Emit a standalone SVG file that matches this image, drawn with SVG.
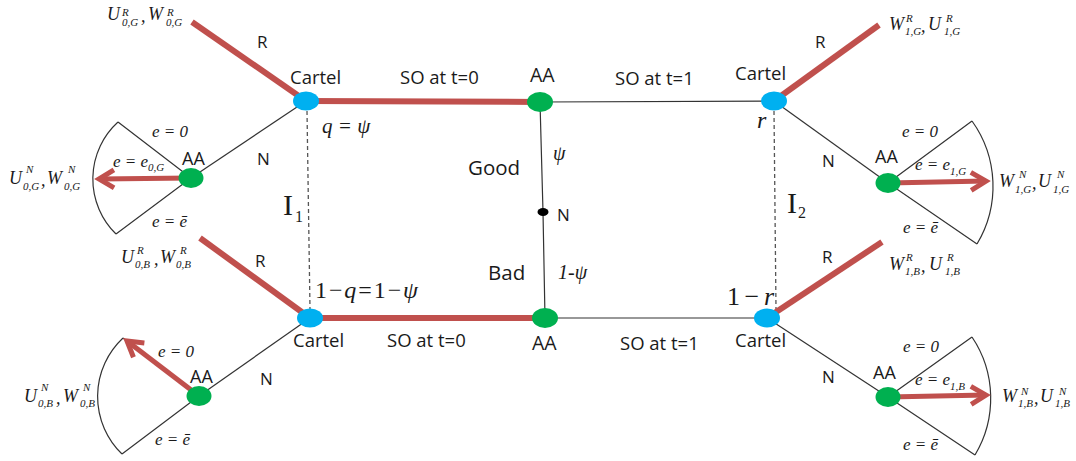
<svg xmlns="http://www.w3.org/2000/svg" width="1076" height="461" viewBox="0 0 1076 461">
<style>
.s{font-family:"Open Sans","Liberation Sans",sans-serif;fill:#1a1a1a}
.c{font-size:18.5px}
.t{font-size:17px}
.gb{font-size:20.5px}
.m{font-family:"Liberation Serif",serif;font-style:italic;fill:#1a1a1a}
.up{font-style:normal}
.it{font-style:italic}
.p{font-size:18px}
.sc{font-size:11px}
.e{font-size:17px}
.red{stroke:#C0504D;stroke-width:6;fill:none}
.arr{stroke:#C0504D;stroke-width:5;fill:none;marker-end:url(#ah)}
.thin{stroke:#333;stroke-width:1.2;fill:none}
.dash{stroke:#555;stroke-width:1.3;stroke-dasharray:4 3;fill:none}
.cartel{fill:#00B0F0}
.aa{fill:#00B050}
</style>
<defs>
<marker id="ah" markerUnits="userSpaceOnUse" markerWidth="40" markerHeight="40" viewBox="-20 -20 40 40" refX="0" refY="0" orient="auto" overflow="visible">
<path d="M -15 -9 L 0 0 L -15 9" stroke="#C0504D" stroke-width="5" fill="none" stroke-linejoin="miter"/>
</marker>
</defs>

<g id="connectors">
<path class="dash" d="M 307 111 L 310 309"/>
<path class="dash" d="M 774 111 L 776 309"/>
<path class="red" d="M 192 22 L 306 101"/>
<path class="red" d="M 306 101 L 540 102"/>
<path class="red" d="M 200 238 L 310 318"/>
<path class="red" d="M 310 318 L 545 318"/>
<path class="red" d="M 774 101 L 879 25"/>
<path class="red" d="M 767 318 L 882 242"/>
<path class="thin" d="M 540 102 L 774 101"/>
<path class="thin" d="M 545 318 L 767 318"/>
<path class="thin" d="M 540 102 L 543 212 L 545 318"/>
<path class="thin" d="M 306 101 L 191 178"/>
<path class="thin" d="M 310 318 L 199 396"/>
<path class="thin" d="M 774 101 L 888 183"/>
<path class="thin" d="M 767 318 L 888 397"/>
<path class="thin" d="M 118 122 L 191 178 L 116 234"/>
<path class="thin" d="M 118 122 A 77 77 0 0 0 116 234"/>
<path class="thin" d="M 123 338 L 199 396 L 122 454"/>
<path class="thin" d="M 123 338 A 80 80 0 0 0 122 454"/>
<path class="thin" d="M 972 121 L 888 183 L 977 244"/>
<path class="thin" d="M 972 121 A 112 112 0 0 1 977 244"/>
<path class="thin" d="M 972 337 L 888 397 L 975 455"/>
<path class="thin" d="M 972 337 A 110 110 0 0 1 975 455"/>
<path class="arr" d="M 191 178 L 99 179"/>
<path class="arr" d="M 199 396 L 127 341"/>
<path class="arr" d="M 888 183 L 986 181"/>
<path class="arr" d="M 888 397 L 986 395"/>
</g>

<g id="edge-labels">
<text class="s c" x="400" y="84">SO at t=0</text>
<text class="s c" x="615" y="85">SO at t=1</text>
<text class="s c" x="387" y="347">SO at t=0</text>
<text class="s c" x="620" y="350">SO at t=1</text>
<text class="s t" x="257" y="48">R</text>
<text class="s t" x="255" y="267">R</text>
<text class="s t" x="815" y="48">R</text>
<text class="s t" x="822" y="263">R</text>
<text class="s t" x="257" y="165">N</text>
<text class="s t" x="260" y="385">N</text>
<text class="s t" x="822" y="167">N</text>
<text class="s t" x="822" y="383">N</text>
<text class="s gb" x="468" y="175">Good</text>
<text class="s gb" x="488" y="280">Bad</text>
<text class="m" font-size="20" x="553" y="160">ψ</text>
<text class="m" font-size="20" x="558" y="279">1-ψ</text>
<text class="m" font-size="21" x="322" y="133" xml:space="preserve">q = ψ</text>
<text class="m up" font-size="24" x="315" y="298" textLength="103" lengthAdjust="spacing">1−<tspan class="it">q</tspan>=1−<tspan class="it">ψ</tspan></text>
<text class="m" font-size="24" x="757" y="128">r</text>
<text class="m up" font-size="26" x="727" y="305" textLength="47" lengthAdjust="spacing">1−<tspan class="it">r</tspan></text>
<text class="m up" font-size="30" x="283" y="215">I<tspan font-size="16" x="295" y="222">1</tspan></text>
<text class="m up" font-size="30" x="787" y="213">I<tspan font-size="16" x="798" y="218">2</tspan></text>
<text class="m e" x="152" y="137" xml:space="preserve">e = 0</text>
<text class="m e" x="113" y="167" xml:space="preserve">e = e<tspan class="sc" y="171">0,G</tspan></text>
<text class="m e" x="152" y="227" xml:space="preserve">e = ē</text>
<text class="m e" x="158" y="357" xml:space="preserve">e = 0</text>
<text class="m e" x="155" y="445" xml:space="preserve">e = ē</text>
<text class="m e" x="902" y="137" xml:space="preserve">e = 0</text>
<text class="m e" x="915" y="170" xml:space="preserve">e = e<tspan class="sc" y="175">1,G</tspan></text>
<text class="m e" x="903" y="233" xml:space="preserve">e = ē</text>
<text class="m e" x="903" y="352" xml:space="preserve">e = 0</text>
<text class="m e" x="915" y="385" xml:space="preserve">e = e<tspan class="sc" y="390">1,B</tspan></text>
<text class="m e" x="903" y="450" xml:space="preserve">e = ē</text>
</g>

<g id="cartel-top-left"><ellipse class="cartel" cx="306" cy="101" rx="13" ry="9.5"/><text class="s c" x="290" y="84">Cartel</text></g>
<g id="aa-top"><ellipse class="aa" cx="540" cy="102" rx="13" ry="10"/><text class="s" font-size="19.5" x="530" y="82">AA</text></g>
<g id="cartel-top-right"><ellipse class="cartel" cx="774" cy="101" rx="13" ry="9.5"/><text class="s c" x="735" y="80">Cartel</text></g>
<g id="cartel-bottom-left"><ellipse class="cartel" cx="310" cy="318" rx="13" ry="9.5"/><text class="s c" x="293" y="347">Cartel</text></g>
<g id="aa-bottom"><ellipse class="aa" cx="545" cy="318" rx="13" ry="10"/><text class="s" font-size="19.5" x="532" y="350">AA</text></g>
<g id="cartel-bottom-right"><ellipse class="cartel" cx="767" cy="318" rx="13" ry="9.5"/><text class="s c" x="735" y="347">Cartel</text></g>
<g id="nature"><ellipse fill="#000" cx="543" cy="212" rx="5.5" ry="4"/><text class="s t" x="557" y="221">N</text></g>
<g id="aa-tl"><ellipse class="aa" cx="191" cy="178" rx="12.5" ry="10"/><text class="s" font-size="18" x="182" y="165">AA</text></g>
<g id="aa-bl"><ellipse class="aa" cx="199" cy="396" rx="12.5" ry="10"/><text class="s" font-size="18" x="190" y="383">AA</text></g>
<g id="aa-tr"><ellipse class="aa" cx="888" cy="183" rx="12.5" ry="10"/><text class="s" font-size="18" x="875" y="163">AA</text></g>
<g id="aa-br"><ellipse class="aa" cx="888" cy="397" rx="12.5" ry="10"/><text class="s" font-size="18" x="873" y="379">AA</text></g>

<g id="pay-r-0g"><text class="m p"><tspan x="107" y="20">U</tspan><tspan class="sc" x="122" y="16">R</tspan><tspan class="sc" x="122" y="26">0,G</tspan><tspan x="141" y="22">,</tspan><tspan x="148" y="20">W</tspan><tspan class="sc" x="167" y="16">R</tspan><tspan class="sc" x="166" y="26">0,G</tspan></text></g>
<g id="pay-n-0g"><text class="m p"><tspan x="9" y="184">U</tspan><tspan class="sc" x="26" y="173">N</tspan><tspan class="sc" x="23" y="190">0,G</tspan><tspan x="41" y="186">,</tspan><tspan x="47" y="184">W</tspan><tspan class="sc" x="68" y="173">N</tspan><tspan class="sc" x="64" y="190">0,G</tspan></text></g>
<g id="pay-r-0b"><text class="m p"><tspan x="121" y="263">U</tspan><tspan class="sc" x="137" y="254">R</tspan><tspan class="sc" x="135" y="268">0,B</tspan><tspan x="154" y="265">,</tspan><tspan x="160" y="263">W</tspan><tspan class="sc" x="180" y="254">R</tspan><tspan class="sc" x="176" y="268">0,B</tspan></text></g>
<g id="pay-n-0b"><text class="m p"><tspan x="24" y="402">U</tspan><tspan class="sc" x="41" y="391">N</tspan><tspan class="sc" x="38" y="407">0,B</tspan><tspan x="56" y="404">,</tspan><tspan x="63" y="402">W</tspan><tspan class="sc" x="83" y="391">N</tspan><tspan class="sc" x="80" y="407">0,B</tspan></text></g>
<g id="pay-r-1g"><text class="m p"><tspan x="889" y="30">W</tspan><tspan class="sc" x="906" y="22">R</tspan><tspan class="sc" x="905" y="35">1,G</tspan><tspan x="921" y="32">,</tspan><tspan x="928" y="30">U</tspan><tspan class="sc" x="946" y="22">R</tspan><tspan class="sc" x="944" y="35">1,G</tspan></text></g>
<g id="pay-n-1g"><text class="m p"><tspan x="999" y="187">W</tspan><tspan class="sc" x="1019" y="178">N</tspan><tspan class="sc" x="1015" y="193">1,G</tspan><tspan x="1032" y="189">,</tspan><tspan x="1038" y="187">U</tspan><tspan class="sc" x="1057" y="178">N</tspan><tspan class="sc" x="1053" y="193">1,G</tspan></text></g>
<g id="pay-r-1b"><text class="m p"><tspan x="889" y="270">W</tspan><tspan class="sc" x="906" y="261">R</tspan><tspan class="sc" x="905" y="275">1,B</tspan><tspan x="921" y="272">,</tspan><tspan x="929" y="270">U</tspan><tspan class="sc" x="947" y="261">R</tspan><tspan class="sc" x="945" y="275">1,B</tspan></text></g>
<g id="pay-n-1b"><text class="m p"><tspan x="1002" y="402">W</tspan><tspan class="sc" x="1021" y="395">N</tspan><tspan class="sc" x="1018" y="407">1,B</tspan><tspan x="1034" y="404">,</tspan><tspan x="1040" y="402">U</tspan><tspan class="sc" x="1059" y="395">N</tspan><tspan class="sc" x="1055" y="407">1,B</tspan></text></g>
</svg>
